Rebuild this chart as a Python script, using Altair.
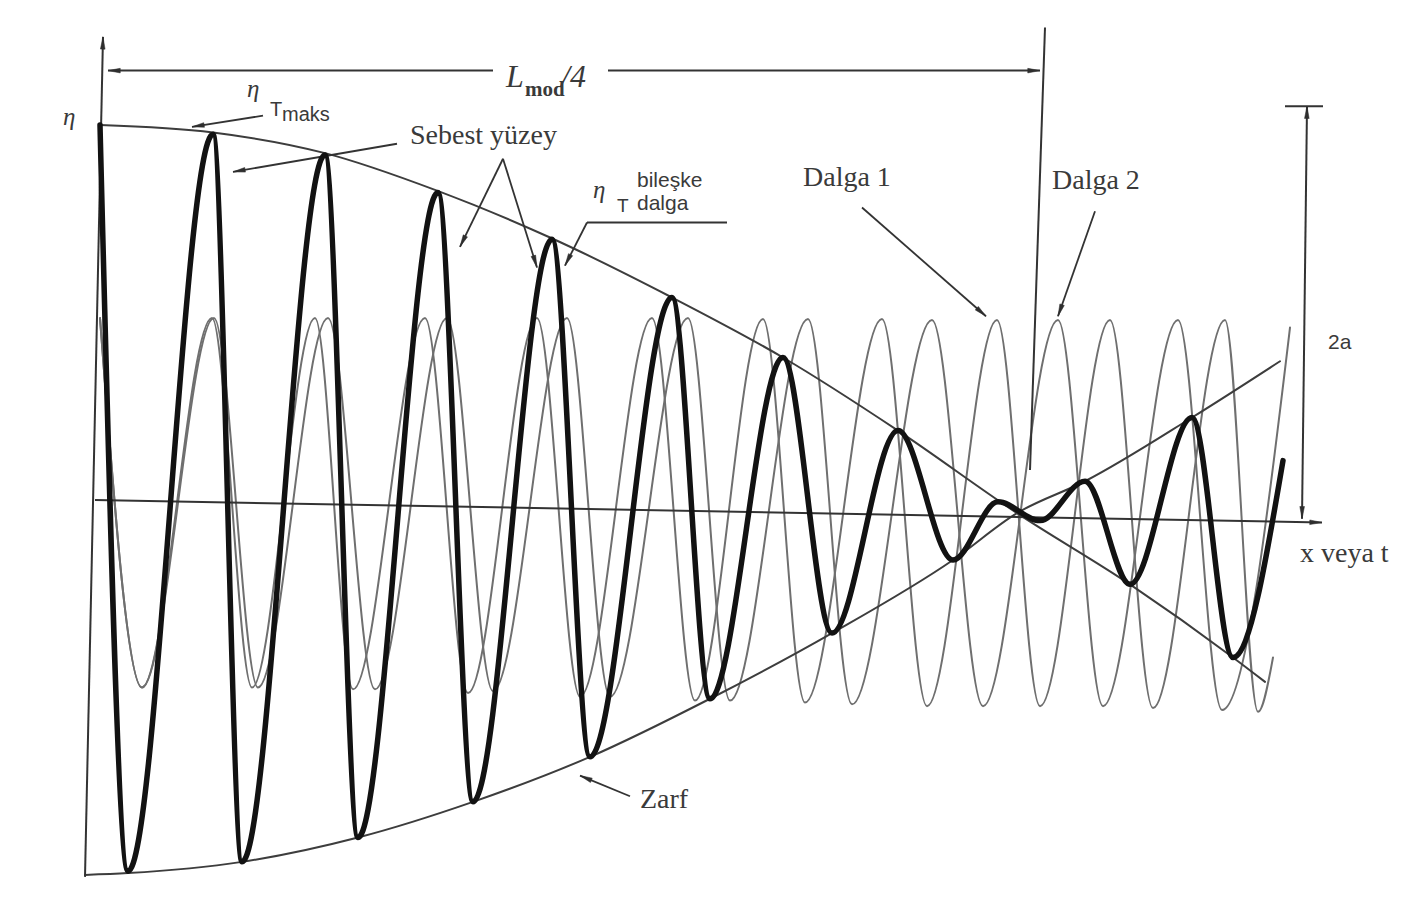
import math
import altair as alt
import pandas as pd

# ---------------- values ----------------
# x : "x veya t" (arbitrary units), eta : surface elevation in units of a
dalga1_x = [0.00, 0.42, 1.12, 1.52, 2.15, 2.53, 3.25, 3.68, 4.37, 4.80, 5.52, 5.95,
            6.63, 7.05, 7.82, 8.27, 8.97, 9.40, 10.10, 10.53, 11.25, 11.58, 11.73]
dalga1_eta = [0.97, -1.00, 0.97, -1.00, 0.97, -1.01, 0.97, -1.03, 0.97, -1.05, 0.97, -1.07,
              0.965, -1.08, 0.965, -1.10, 0.96, -1.10, 0.96, -1.11, 0.96, -1.13, -0.84]

dalga2_x = [0.00, 0.42, 1.14, 1.58, 2.28, 2.75, 3.47, 3.93, 4.67, 5.10, 5.88, 6.30,
            7.08, 7.52, 8.32, 8.83, 9.58, 10.03, 10.78, 11.22, 11.90]
dalga2_eta = [0.97, -1.00, 0.97, -1.00, 0.97, -1.01, 0.97, -1.02, 0.97, -1.05, 0.97, -1.07,
              0.965, -1.09, 0.96, -1.10, 0.96, -1.10, 0.96, -1.12, 0.92]

bileske_x = [0.00, 0.28, 1.13, 1.42, 2.25, 2.58, 3.38, 3.73, 4.52, 4.90, 5.72, 6.10,
             6.83, 7.32, 7.98, 8.53, 8.98, 9.40, 9.85, 10.30, 10.92, 11.33, 11.83]
bileske_eta = [2.00, -1.98, 1.95, -1.93, 1.84, -1.80, 1.64, -1.61, 1.39, -1.37, 1.08, -1.06,
               0.76, -0.71, 0.37, -0.32, -0.01, -0.11, 0.10, -0.45, 0.44, -0.84, 0.21]

zarf_ust_x = [0.00, 1.13, 2.25, 3.37, 4.50, 5.72, 6.83, 7.98, 9.17, 10.30, 11.33, 11.65]
zarf_ust_eta = [2.00, 1.96, 1.85, 1.65, 1.40, 1.08, 0.76, 0.37, -0.07, -0.45, -0.84, -0.97]

zarf_alt_x = [-0.15, 0.28, 1.42, 2.58, 3.73, 4.90, 6.10, 7.32, 8.53, 9.17, 9.85, 10.92, 11.80]
zarf_alt_eta = [-2.00, -1.99, -1.93, -1.80, -1.61, -1.37, -1.06, -0.71, -0.32, -0.07, 0.10, 0.44, 0.74]

# axes and dimension lines: (x, eta) -> (x2, eta2)
axis_segments = [
    (-0.15, -2.01, 0.03, 2.47),    # eta axis
    (-0.05, 0.00, 12.22, -0.12),   # x axis
    (0.08, 2.29, 3.93, 2.29),      # L_mod/4 left part
    (5.08, 2.29, 9.40, 2.29),      # L_mod/4 right part
    (9.45, 2.52, 9.30, 0.16),      # L_mod/4 end line
    (12.07, 2.10, 12.02, -0.10),   # 2a dimension
    (11.85, 2.10, 12.23, 2.10),    # 2a cap
]
# leader lines, drawn from label towards the pointed item
leader_segments = [
    (1.63, 2.05, 0.92, 1.99),      # eta T maks
    (2.97, 1.90, 1.33, 1.75),      # Sebest yuzey (left)
    (4.03, 1.82, 3.60, 1.35),      # Sebest yuzey
    (4.03, 1.82, 4.37, 1.24),      # Sebest yuzey
    (6.27, 1.48, 4.87, 1.48),      # bileske dalga
    (4.87, 1.48, 4.65, 1.25),      # bileske dalga
    (7.62, 1.56, 8.86, 0.98),      # Dalga 1
    (9.95, 1.54, 9.58, 0.98),      # Dalga 2
    (5.30, -1.58, 4.80, -1.47),    # Zarf
]
# arrow heads: tip (x, eta) and the point the line comes from
arrow_heads = [
    (0.03, 2.47, -0.15, -2.01),
    (12.22, -0.12, -0.05, 0.00),
    (0.08, 2.29, 3.93, 2.29),
    (9.40, 2.29, 5.08, 2.29),
    (12.07, 2.10, 12.02, -0.10),
    (12.02, -0.10, 12.07, 2.10),
    (0.92, 1.99, 1.63, 2.05),
    (1.33, 1.75, 2.97, 1.90),
    (3.60, 1.35, 4.03, 1.82),
    (4.37, 1.24, 4.03, 1.82),
    (4.65, 1.25, 4.87, 1.48),
    (8.86, 0.98, 7.62, 1.56),
    (9.58, 0.98, 9.95, 1.54),
    (4.80, -1.47, 5.30, -1.58),
]

# labels: (x, eta, text, style)
labels = [
    (-0.37, 2.00, "η", "greek"),
    (1.47, 2.15, "η", "greek"),
    (1.70, 2.05, "T", "sans20"),
    (1.82, 2.02, "maks", "sans20"),
    (3.10, 1.90, "Sebest yüzey", "serif"),
    (4.06, 2.20, "L", "italic_big"),
    (4.25, 2.155, "mod", "sub"),
    (4.61, 2.20, "/4", "italic_big"),
    (4.93, 1.61, "η", "greek"),
    (5.17, 1.536, "T", "sans19"),
    (5.37, 1.67, "bileşke", "sans21"),
    (5.37, 1.545, "dalga", "sans21"),
    (7.03, 1.675, "Dalga 1", "serif"),
    (9.52, 1.659, "Dalga 2", "serif"),
    (12.28, 0.805, "2a", "sans21"),
    (12.00, -0.331, "x veya t", "serif"),
    (5.40, -1.643, "Zarf", "serif"),
]

# ---------------- frame ----------------
W, H = 1386, 887
X_MIN, X_MAX = -0.92, 12.94
Y_MIN, Y_MAX = -2.1067, 2.624
PX_X = W / (X_MAX - X_MIN)
PX_Y = H / (Y_MAX - Y_MIN)

xs = alt.Scale(domain=[X_MIN, X_MAX], nice=False, zero=False)
ys = alt.Scale(domain=[Y_MIN, Y_MAX], nice=False, zero=False)


def enc_xy(xf="x", yf="eta"):
    return dict(x=alt.X(f"{xf}:Q", scale=xs, axis=None),
                y=alt.Y(f"{yf}:Q", scale=ys, axis=None))


def line_layer(xv, yv, color, width):
    df = pd.DataFrame({"x": xv, "eta": yv})
    return alt.Chart(df).mark_line(interpolate="monotone", color=color,
                                   strokeWidth=width, strokeCap="round",
                                   strokeJoin="round").encode(**enc_xy())


def seg_layer(segs, color, width):
    df = pd.DataFrame(segs, columns=["x", "eta", "x2", "eta2"])
    return alt.Chart(df).mark_rule(color=color, strokeWidth=width).encode(
        **enc_xy(), x2="x2:Q", y2="eta2:Q")


# arrow heads: narrow triangles rotated along the line direction
SIZE = 150
HEAD = "M0,-1L0.38,1L-0.38,1Z"
r = math.sqrt(SIZE) / 2
rows = []
for tx, ty, fx, fy in arrow_heads:
    dx = (tx - fx) * PX_X
    dy = -(ty - fy) * PX_Y
    n = math.hypot(dx, dy)
    ux, uy = dx / n, dy / n
    ang = math.degrees(math.atan2(ux, -uy)) % 360
    cx = tx - ux * r / PX_X
    cy = ty + uy * r / PX_Y
    rows.append({"x": cx, "eta": cy, "ang": ang})
heads_df = pd.DataFrame(rows)
heads = alt.Chart(heads_df).mark_point(shape=HEAD, filled=True, size=SIZE,
                                       fill="#2e2e2e", fillOpacity=1, opacity=1,
                                       stroke="#2e2e2e", strokeWidth=0.5).encode(
    **enc_xy(), angle=alt.Angle("ang:Q", scale=None))

TXT = "#3a3a3a"
styles = {
    "greek": dict(font="Liberation Serif", fontSize=25, fontStyle="italic"),
    "sans20": dict(font="Liberation Sans", fontSize=20),
    "sans19": dict(font="Liberation Sans", fontSize=19),
    "sans21": dict(font="Liberation Sans", fontSize=21),
    "serif": dict(font="Liberation Serif", fontSize=28),
    "italic_big": dict(font="Liberation Serif", fontSize=32, fontStyle="italic"),
    "sub": dict(font="Liberation Serif", fontSize=21, fontWeight="bold"),
}
lab_df = pd.DataFrame(labels, columns=["x", "eta", "t", "style"])
text_layers = []
for key, st in styles.items():
    sub = lab_df[lab_df["style"] == key]
    if len(sub) == 0:
        continue
    text_layers.append(
        alt.Chart(sub).mark_text(align="left", baseline="alphabetic", color=TXT, **st)
        .encode(**enc_xy(), text="t:N"))

layers = [
    line_layer(dalga1_x, dalga1_eta, "#6f6f6f", 2.0),
    line_layer(dalga2_x, dalga2_eta, "#6f6f6f", 2.0),
    line_layer(zarf_ust_x, zarf_ust_eta, "#3d3d3d", 2.0),
    line_layer(zarf_alt_x, zarf_alt_eta, "#3d3d3d", 2.0),
    seg_layer(axis_segments, "#333333", 2.0),
    seg_layer(leader_segments, "#333333", 1.8),
    line_layer(bileske_x, bileske_eta, "#121212", 5.5),
    heads,
] + text_layers

chart = alt.layer(*layers).properties(
    width=W, height=H,
    autosize=alt.AutoSizeParams(type="none"),
    padding=0,
    background="white",
).configure_view(strokeWidth=0)

chart.save("out.html", embed_options={"renderer": "svg", "actions": False})
